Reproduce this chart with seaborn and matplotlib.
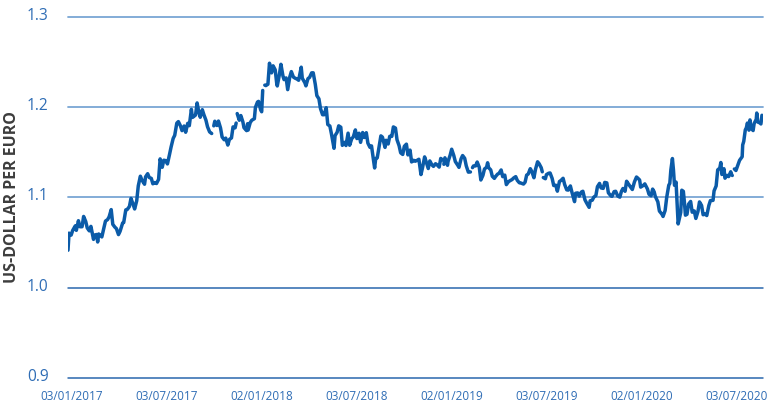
"""
US-dollar per euro, daily reference rate 2017-2020, redrawn with seaborn.
"""

import numpy as np
import pandas as pd
import matplotlib
matplotlib.use("Agg")
import matplotlib.pyplot as plt
from matplotlib.transforms import ScaledTranslation
import seaborn as sns

# values; None marks a missing day (the line breaks there)
eur_2017 = [
    ("2017-01-03", 1.0416), ("2017-01-05", 1.0605), ("2017-01-09", 1.0583), ("2017-01-12", 1.0635),
    ("2017-01-17", 1.0686), ("2017-01-19", 1.0636), ("2017-01-23", 1.0743), ("2017-01-26", 1.0676),
    ("2017-01-30", 1.0676), ("2017-02-02", 1.0790), ("2017-02-06", 1.0735), ("2017-02-09", 1.0662),
    ("2017-02-13", 1.0630), ("2017-02-16", 1.0680), ("2017-02-21", 1.0536), ("2017-02-23", 1.0583),
    ("2017-02-27", 1.0590), ("2017-03-01", 1.0507), ("2017-03-03", 1.0596), ("2017-03-07", 1.0575),
    ("2017-03-09", 1.0563), ("2017-03-13", 1.0665), ("2017-03-16", 1.0739), ("2017-03-20", 1.0755),
    ("2017-03-23", 1.0786), ("2017-03-27", 1.0866), ("2017-03-30", 1.0703), ("2017-04-03", 1.0672),
    ("2017-04-06", 1.0655), ("2017-04-10", 1.0589), ("2017-04-13", 1.0625), ("2017-04-18", 1.0718),
    ("2017-04-20", 1.0723), ("2017-04-24", 1.0863), ("2017-04-27", 1.0868), ("2017-05-01", 1.0901),
    ("2017-05-04", 1.0990), ("2017-05-08", 1.0925), ("2017-05-11", 1.0873), ("2017-05-15", 1.0964),
    ("2017-05-18", 1.1129), ("2017-05-22", 1.1236), ("2017-05-25", 1.1193), ("2017-05-30", 1.1147),
    ("2017-06-01", 1.1229), ("2017-06-05", 1.1264), ("2017-06-08", 1.1222), ("2017-06-12", 1.1212),
    ("2017-06-15", 1.1152), ("2017-06-19", 1.1166), ("2017-06-22", 1.1155), ("2017-06-26", 1.1201),
    ("2017-06-29", 1.1428), ("2017-07-03", 1.1335), ("2017-07-06", 1.1413), ("2017-07-10", 1.1408),
    ("2017-07-13", 1.1372), ("2017-07-17", 1.1477), ("2017-07-20", 1.1559), ("2017-07-24", 1.1654),
    ("2017-07-27", 1.1689), ("2017-07-31", 1.1824), ("2017-08-03", 1.1841), ("2017-08-07", 1.1794),
    ("2017-08-10", 1.1741), ("2017-08-14", 1.1792), ("2017-08-17", 1.1723), ("2017-08-21", 1.1822),
    ("2017-08-24", 1.1796), ("2017-08-28", 1.1977), ("2017-08-30", 1.1887), ("2017-09-01", 1.1895),
    ("2017-09-05", 1.1914), ("2017-09-08", 1.2048), ("2017-09-11", 1.1954), ("2017-09-14", 1.1889),
    ("2017-09-18", 1.1973), ("2017-09-21", 1.1918), ("2017-09-25", 1.1856), ("2017-09-28", 1.1784),
    ("2017-10-02", 1.1727), ("2017-10-06", 1.1709), ("2017-10-09", None), ("2017-10-10", 1.1794),
    ("2017-10-12", 1.1845), ("2017-10-16", 1.1798), ("2017-10-19", 1.1847), ("2017-10-23", 1.1770),
    ("2017-10-26", 1.1671), ("2017-10-30", 1.1640), ("2017-11-02", 1.1658), ("2017-11-06", 1.1581),
    ("2017-11-09", 1.1643), ("2017-11-13", 1.1660), ("2017-11-16", 1.1782), ("2017-11-20", 1.1772),
    ("2017-11-22", 1.1825), ("2017-11-23", None), ("2017-11-24", 1.1930), ("2017-11-28", 1.1856),
    ("2017-12-01", 1.1908), ("2017-12-05", 1.1836), ("2017-12-07", 1.1774), ("2017-12-12", 1.1741),
    ("2017-12-14", 1.1818), ("2017-12-15", 1.1747), ("2017-12-19", 1.1830), ("2017-12-22", 1.1856),
    ("2017-12-27", 1.1873), ("2017-12-29", 1.1998),
]

eur_2018 = [
    ("2018-01-02", 1.2058), ("2018-01-04", 1.2065), ("2018-01-08", 1.1973), ("2018-01-10", 1.1950),
    ("2018-01-12", 1.2186), ("2018-01-15", None), ("2018-01-16", 1.2245), ("2018-01-18", 1.2240),
    ("2018-01-22", 1.2255), ("2018-01-25", 1.2488), ("2018-01-29", 1.2381), ("2018-02-01", 1.2459),
    ("2018-02-05", 1.2415), ("2018-02-08", 1.2260), ("2018-02-09", 1.2236), ("2018-02-13", 1.2361),
    ("2018-02-16", 1.2476), ("2018-02-20", 1.2343), ("2018-02-22", 1.2306), ("2018-02-26", 1.2325),
    ("2018-03-01", 1.2195), ("2018-03-05", 1.2335), ("2018-03-08", 1.2395), ("2018-03-12", 1.2334),
    ("2018-03-15", 1.2323), ("2018-03-19", 1.2312), ("2018-03-22", 1.2299), ("2018-03-27", 1.2444),
    ("2018-03-29", 1.2322), ("2018-04-03", 1.2271), ("2018-04-05", 1.2237), ("2018-04-09", 1.2318),
    ("2018-04-12", 1.2330), ("2018-04-16", 1.2381), ("2018-04-19", 1.2382), ("2018-04-23", 1.2254),
    ("2018-04-26", 1.2129), ("2018-04-30", 1.2093), ("2018-05-03", 1.1985), ("2018-05-07", 1.1917),
    ("2018-05-10", 1.1917), ("2018-05-14", 1.1995), ("2018-05-17", 1.1809), ("2018-05-21", 1.1792),
    ("2018-05-24", 1.1706), ("2018-05-29", 1.1545), ("2018-05-31", 1.1686), ("2018-06-04", 1.1723),
    ("2018-06-07", 1.1794), ("2018-06-11", 1.1779), ("2018-06-14", 1.1578), ("2018-06-18", 1.1611),
    ("2018-06-21", 1.1576), ("2018-06-25", 1.1713), ("2018-06-28", 1.1579), ("2018-07-02", 1.1652),
    ("2018-07-05", 1.1671), ("2018-07-09", 1.1749), ("2018-07-12", 1.1653), ("2018-07-16", 1.1712),
    ("2018-07-19", 1.1611), ("2018-07-23", 1.1720), ("2018-07-26", 1.1665), ("2018-07-30", 1.1718),
    ("2018-08-02", 1.1603), ("2018-08-06", 1.1556), ("2018-08-09", 1.1572), ("2018-08-13", 1.1407),
    ("2018-08-15", 1.1327), ("2018-08-17", 1.1430), ("2018-08-20", 1.1440), ("2018-08-23", 1.1543),
    ("2018-08-27", 1.1683), ("2018-08-30", 1.1669), ("2018-09-04", 1.1555), ("2018-09-06", 1.1634),
    ("2018-09-10", 1.1593), ("2018-09-13", 1.1678), ("2018-09-17", 1.1677), ("2018-09-20", 1.1782),
    ("2018-09-24", 1.1769), ("2018-09-27", 1.1640), ("2018-10-01", 1.1574), ("2018-10-04", 1.1495),
    ("2018-10-08", 1.1477), ("2018-10-11", 1.1567), ("2018-10-15", 1.1591), ("2018-10-18", 1.1472),
    ("2018-10-22", 1.1525), ("2018-10-25", 1.1394), ("2018-10-29", 1.1412), ("2018-11-01", 1.1402),
    ("2018-11-05", 1.1413), ("2018-11-08", 1.1424), ("2018-11-12", 1.1254), ("2018-11-15", 1.1330),
    ("2018-11-19", 1.1450), ("2018-11-22", 1.1396), ("2018-11-26", 1.1321), ("2018-11-29", 1.1405),
    ("2018-12-03", 1.1362), ("2018-12-06", 1.1345), ("2018-12-10", 1.1374), ("2018-12-13", 1.1362),
    ("2018-12-17", 1.1337), ("2018-12-20", 1.1433), ("2018-12-24", 1.1414), ("2018-12-25", None),
    ("2018-12-26", 1.1368), ("2018-12-28", 1.1440),
]

eur_2019 = [
    ("2019-01-02", 1.1357), ("2019-01-03", 1.1399), ("2019-01-07", 1.1468), ("2019-01-10", 1.1535),
    ("2019-01-14", 1.1466), ("2019-01-17", 1.1398), ("2019-01-22", 1.1354), ("2019-01-24", 1.1334),
    ("2019-01-28", 1.1428), ("2019-01-31", 1.1465), ("2019-02-04", 1.1434), ("2019-02-07", 1.1351),
    ("2019-02-11", 1.1281), ("2019-02-15", 1.1283), ("2019-02-18", None), ("2019-02-19", 1.1331),
    ("2019-02-21", 1.1350), ("2019-02-25", 1.1350), ("2019-02-28", 1.1393), ("2019-03-04", 1.1335),
    ("2019-03-07", 1.1194), ("2019-03-11", 1.1245), ("2019-03-14", 1.1316), ("2019-03-18", 1.1335),
    ("2019-03-20", 1.1385), ("2019-03-22", 1.1330), ("2019-03-26", 1.1306), ("2019-03-29", 1.1235),
    ("2019-04-02", 1.1212), ("2019-04-04", 1.1230), ("2019-04-08", 1.1258), ("2019-04-11", 1.1268),
    ("2019-04-15", 1.1305), ("2019-04-18", 1.1231), ("2019-04-22", 1.1248), ("2019-04-25", 1.1143),
    ("2019-04-29", 1.1175), ("2019-05-02", 1.1186), ("2019-05-06", 1.1199), ("2019-05-09", 1.1216),
    ("2019-05-13", 1.1231), ("2019-05-16", 1.1190), ("2019-05-20", 1.1163), ("2019-05-23", 1.1160),
    ("2019-05-28", 1.1149), ("2019-05-31", 1.1170), ("2019-06-03", 1.1248), ("2019-06-06", 1.1260),
    ("2019-06-10", 1.1319), ("2019-06-13", 1.1287), ("2019-06-17", 1.1219), ("2019-06-20", 1.1312),
    ("2019-06-24", 1.1396), ("2019-06-27", 1.1374), ("2019-07-01", 1.1330), ("2019-07-03", 1.1285),
    ("2019-07-04", None), ("2019-07-05", 1.1221), ("2019-07-09", 1.1208), ("2019-07-11", 1.1253),
    ("2019-07-15", 1.1268), ("2019-07-18", 1.1272), ("2019-07-22", 1.1211), ("2019-07-25", 1.1133),
    ("2019-07-29", 1.1136), ("2019-08-01", 1.1070), ("2019-08-05", 1.1177), ("2019-08-08", 1.1189),
    ("2019-08-12", 1.1213), ("2019-08-15", 1.1144), ("2019-08-19", 1.1085), ("2019-08-22", 1.1082),
    ("2019-08-26", 1.1128), ("2019-08-29", 1.1058), ("2019-09-03", 1.0954), ("2019-09-05", 1.1047),
    ("2019-09-09", 1.1051), ("2019-09-12", 1.1015), ("2019-09-16", 1.1060), ("2019-09-19", 1.1069),
    ("2019-09-23", 1.0974), ("2019-09-26", 1.0941), ("2019-10-01", 1.0891), ("2019-10-03", 1.0964),
    ("2019-10-07", 1.0970), ("2019-10-10", 1.1004), ("2019-10-14", 1.1022), ("2019-10-17", 1.1120),
    ("2019-10-21", 1.1156), ("2019-10-24", 1.1106), ("2019-10-28", 1.1101), ("2019-10-31", 1.1167),
    ("2019-11-04", 1.1162), ("2019-11-07", 1.1052), ("2019-11-12", 1.1017), ("2019-11-14", 1.1013),
    ("2019-11-18", 1.1065), ("2019-11-21", 1.1069), ("2019-11-25", 1.1016), ("2019-11-29", 1.1004),
    ("2019-12-02", 1.1067), ("2019-12-05", 1.1100), ("2019-12-09", 1.1069), ("2019-12-12", 1.1180),
    ("2019-12-16", 1.1146), ("2019-12-19", 1.1121), ("2019-12-23", 1.1089), ("2019-12-27", 1.1172),
    ("2019-12-31", 1.1227),
]

eur_2020 = [
    ("2020-01-02", 1.1217), ("2020-01-06", 1.1194), ("2020-01-08", 1.1115), ("2020-01-13", 1.1133),
    ("2020-01-16", 1.1151), ("2020-01-21", 1.1095), ("2020-01-24", 1.1036), ("2020-01-28", 1.1019),
    ("2020-01-31", 1.1093), ("2020-02-03", 1.1062), ("2020-02-05", 1.1014), ("2020-02-10", 1.0952),
    ("2020-02-13", 1.0850), ("2020-02-18", 1.0814), ("2020-02-20", 1.0790), ("2020-02-24", 1.0856),
    ("2020-02-27", 1.1000), ("2020-03-02", 1.1136), ("2020-03-04", 1.1157), ("2020-03-06", 1.1306),
    ("2020-03-09", 1.1432), ("2020-03-11", 1.1306), ("2020-03-13", 1.1135), ("2020-03-16", 1.1171),
    ("2020-03-18", 1.0936), ("2020-03-20", 1.0707), ("2020-03-23", 1.0784), ("2020-03-25", 1.0835),
    ("2020-03-27", 1.1081), ("2020-03-30", 1.1068), ("2020-04-01", 1.0950), ("2020-04-03", 1.0804),
    ("2020-04-06", 1.0814), ("2020-04-09", 1.0926), ("2020-04-13", 1.0956), ("2020-04-16", 1.0837),
    ("2020-04-20", 1.0851), ("2020-04-23", 1.0768), ("2020-04-27", 1.0844), ("2020-04-30", 1.0951),
    ("2020-05-04", 1.0912), ("2020-05-07", 1.0809), ("2020-05-11", 1.0816), ("2020-05-14", 1.0800),
    ("2020-05-18", 1.0912), ("2020-05-21", 1.0966), ("2020-05-26", 1.0968), ("2020-05-28", 1.1073),
    ("2020-06-01", 1.1128), ("2020-06-04", 1.1306), ("2020-06-08", 1.1326), ("2020-06-10", 1.1388),
    ("2020-06-12", 1.1255), ("2020-06-16", 1.1319), ("2020-06-18", 1.1214), ("2020-06-22", 1.1245),
    ("2020-06-25", 1.1232), ("2020-06-29", 1.1285), ("2020-07-01", 1.1251), ("2020-07-02", 1.1244),
    ("2020-07-03", None), ("2020-07-06", 1.1316), ("2020-07-09", 1.1299), ("2020-07-13", 1.1364),
    ("2020-07-16", 1.1412), ("2020-07-21", 1.1452), ("2020-07-22", 1.1583), ("2020-07-24", 1.1621),
    ("2020-07-27", 1.1749), ("2020-07-29", 1.1772), ("2020-07-31", 1.1825), ("2020-08-03", 1.1746),
    ("2020-08-05", 1.1860), ("2020-08-07", 1.1768), ("2020-08-11", 1.1742), ("2020-08-13", 1.1820),
    ("2020-08-17", 1.1866), ("2020-08-18", 1.1936), ("2020-08-20", 1.1836), ("2020-08-24", 1.1827),
    ("2020-08-26", 1.1815), ("2020-08-28", 1.1911),
]

tick_dates = ["2017-01-03", "2017-07-03", "2018-01-02", "2018-07-03",
              "2019-01-02", "2019-07-03", "2020-01-02", "2020-07-03"]
tick_labels = ["03/01/2017", "03/07/2017", "02/01/2018", "03/07/2018",
               "02/01/2019", "03/07/2019", "02/01/2020", "03/07/2020"]
y_ticks = [0.9, 1.0, 1.1, 1.2, 1.3]

LINE_COLOR = "#0b5ba8"
GRID_LIGHT = "#7aa6d4"
GRID_DARK = "#2a67ad"
TICK_COLOR = "#2f6db5"

sns.set_style("white")
plt.rcParams["font.family"] = ["Open Sans", "DejaVu Sans"]

df = pd.DataFrame(eur_2017 + eur_2018 + eur_2019 + eur_2020, columns=["date", "rate"])
df["date"] = pd.to_datetime(df["date"])
df["rate"] = df["rate"].astype(float)
# every missing day starts a new piece of line
df["segment"] = df["rate"].isna().cumsum()
df = df.dropna()

fig = plt.figure(figsize=(7.72, 4.03), dpi=100)
ax = fig.add_axes([68 / 772, 1 - 378 / 403, 695 / 772, 361 / 403])

sns.lineplot(data=df, x="date", y="rate", units="segment", estimator=None,
             color=LINE_COLOR, lw=2.5, ax=ax, zorder=3)

ax.set_xlim(pd.Timestamp("2017-01-03"), pd.Timestamp("2020-08-30"))
ax.set_ylim(0.9, 1.3)
ax.set_yticks(y_ticks)
ax.set_yticklabels([f"{v:.1f}" for v in y_ticks])
ax.set_xticks(pd.to_datetime(tick_dates))
ax.set_xticklabels(tick_labels)

ax.grid(axis="y", color=GRID_LIGHT, lw=1.3)
ax.grid(axis="x", visible=False)
for gl, v in zip(ax.get_ygridlines(), y_ticks):
    gl.set_clip_on(False)
    if v <= 1.0:
        gl.set_color(GRID_DARK)
        gl.set_linewidth(1.1)
ax.set_axisbelow(True)
sns.despine(ax=ax, left=True, bottom=True)

ax.tick_params(axis="y", length=0, pad=14, labelsize=11.2, labelcolor=TICK_COLOR)
ax.tick_params(axis="x", length=0, pad=9, labelsize=8.5, labelcolor=TICK_COLOR)
for lab in ax.get_xticklabels():
    lab.set_transform(lab.get_transform() + ScaledTranslation(4 / 100, 0, fig.dpi_scale_trans))
for lab in ax.get_yticklabels():
    lab.set_transform(lab.get_transform() + ScaledTranslation(0, 3 / 100, fig.dpi_scale_trans))

ax.set_xlabel("")
ax.set_ylabel("US-DOLLAR PER EURO", fontsize=11.5, color="#3d3d3d", fontweight="bold")
ax.yaxis.set_label_coords(-0.069, 0.5)

fig.savefig("out.png", dpi=100)
